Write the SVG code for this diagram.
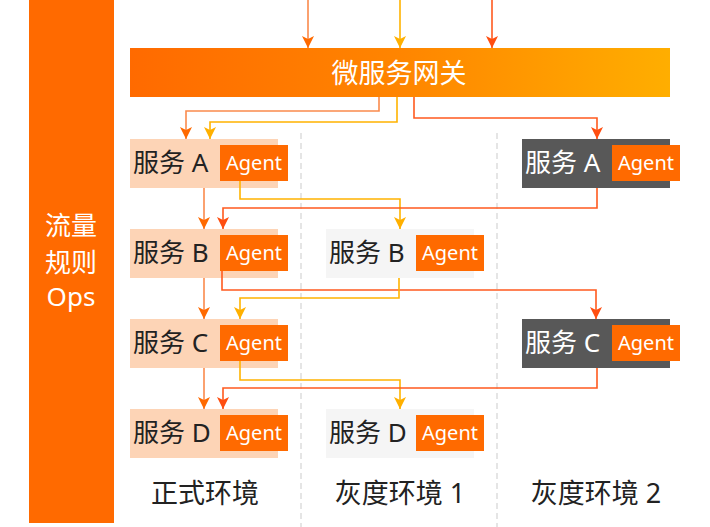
<svg xmlns="http://www.w3.org/2000/svg" width="710" height="527" viewBox="0 0 710 527">
<style>
.cjk{font-family:"Noto Sans","Noto Sans CJK SC",sans-serif}
.svc{font-size:26px;fill:#222}
.svcd{font-size:26px;fill:#fff}
.ag{font-size:20px;fill:#fff}
.agbox{fill:#FF6A00}
.peach{fill:#FDD4B6}
.gray{fill:#F5F5F5}
.dark{fill:#585858}
.lo{fill:none;stroke:#FA8A4C;stroke-width:1.6;marker-end:url(#mo)}
.ly{fill:none;stroke:#FFB300;stroke-width:1.6;marker-end:url(#my)}
.lr{fill:none;stroke:#FF5A1F;stroke-width:1.6;marker-end:url(#mr)}
.dash{stroke:#DDDDDD;stroke-width:1.5;stroke-dasharray:6 4}
.env{font-size:27px;fill:#222}
</style>
<defs>
<linearGradient id="gw" x1="0" y1="0" x2="1" y2="0">
<stop offset="0" stop-color="#FF6A00"/>
<stop offset="0.5" stop-color="#FF8500"/>
<stop offset="1" stop-color="#FFAE00"/>
</linearGradient>
<marker id="mo" viewBox="0 0 12 12" refX="12" refY="6" markerWidth="12" markerHeight="12" markerUnits="userSpaceOnUse" orient="auto"><path d="M0,0 L12,6 L0,12 L3,6 z" fill="#FF6A00"/></marker>
<marker id="my" viewBox="0 0 12 12" refX="12" refY="6" markerWidth="12" markerHeight="12" markerUnits="userSpaceOnUse" orient="auto"><path d="M0,0 L12,6 L0,12 L3,6 z" fill="#FFB000"/></marker>
<marker id="mr" viewBox="0 0 12 12" refX="12" refY="6" markerWidth="12" markerHeight="12" markerUnits="userSpaceOnUse" orient="auto"><path d="M0,0 L12,6 L0,12 L3,6 z" fill="#FF4E10"/></marker>
</defs>
<rect width="710" height="527" fill="#fff"/>

<g id="ops">
<rect x="29" y="0" width="85" height="523" fill="#FF6A00"/>
<text class="cjk" x="71" y="235" font-size="26" fill="#fff" text-anchor="middle">流量</text>
<text class="cjk" x="71" y="272" font-size="26" fill="#fff" text-anchor="middle">规则</text>
<text class="cjk" x="71" y="306" font-size="26" fill="#fff" text-anchor="middle">Ops</text>
</g>

<g id="dividers">
<line class="dash" x1="301" y1="133" x2="301" y2="527"/>
<line class="dash" x1="497" y1="133" x2="497" y2="527"/>
</g>

<g id="gateway">
<rect x="130" y="48" width="540" height="49" fill="url(#gw)"/>
<text class="cjk" x="399" y="83" font-size="27" fill="#fff" text-anchor="middle">微服务网关</text>
</g>

<g id="prod-a">
<rect class="peach" x="130" y="139" width="148" height="49"/>
<text class="cjk svc" x="133" y="172">服务 A</text>
<rect class="agbox" x="220" y="145" width="68" height="36"/>
<text class="cjk ag" x="254" y="170" text-anchor="middle">Agent</text>
</g>
<g id="prod-b">
<rect class="peach" x="130" y="229" width="148" height="49"/>
<text class="cjk svc" x="133" y="262">服务 B</text>
<rect class="agbox" x="220" y="235" width="68" height="36"/>
<text class="cjk ag" x="254" y="260" text-anchor="middle">Agent</text>
</g>
<g id="prod-c">
<rect class="peach" x="130" y="319" width="148" height="49"/>
<text class="cjk svc" x="133" y="352">服务 C</text>
<rect class="agbox" x="220" y="325" width="68" height="36"/>
<text class="cjk ag" x="254" y="350" text-anchor="middle">Agent</text>
</g>
<g id="prod-d">
<rect class="peach" x="130" y="409" width="148" height="49"/>
<text class="cjk svc" x="133" y="442">服务 D</text>
<rect class="agbox" x="220" y="415" width="68" height="36"/>
<text class="cjk ag" x="254" y="440" text-anchor="middle">Agent</text>
</g>

<g id="gray1-b">
<rect class="gray" x="326" y="229" width="148" height="49"/>
<text class="cjk svc" x="329" y="262">服务 B</text>
<rect class="agbox" x="416" y="235" width="68" height="36"/>
<text class="cjk ag" x="450" y="260" text-anchor="middle">Agent</text>
</g>
<g id="gray1-d">
<rect class="gray" x="326" y="409" width="148" height="49"/>
<text class="cjk svc" x="329" y="442">服务 D</text>
<rect class="agbox" x="416" y="415" width="68" height="36"/>
<text class="cjk ag" x="450" y="440" text-anchor="middle">Agent</text>
</g>

<g id="gray2-a">
<rect class="dark" x="522" y="139" width="148" height="49"/>
<text class="cjk svcd" x="525" y="172">服务 A</text>
<rect class="agbox" x="612" y="145" width="68" height="36"/>
<text class="cjk ag" x="646" y="170" text-anchor="middle">Agent</text>
</g>
<g id="gray2-c">
<rect class="dark" x="522" y="319" width="148" height="49"/>
<text class="cjk svcd" x="525" y="352">服务 C</text>
<rect class="agbox" x="612" y="325" width="68" height="36"/>
<text class="cjk ag" x="646" y="350" text-anchor="middle">Agent</text>
</g>

<g id="connectors">
<path class="lo" d="M308,0 V48"/>
<path class="ly" d="M400,0 V48"/>
<path class="lr" d="M492,0 V48"/>

<path class="lo" d="M379,97 V111 H186 V139"/>
<path class="ly" d="M397,97 V122 H210 V139"/>
<path class="lr" d="M414,97 V118 H597 V139"/>

<path class="lo" d="M204,188 V229"/>
<path class="ly" d="M240,181 V199 H400 V229"/>
<path class="lr" d="M597,188 V208 H223 V229"/>

<path class="lo" d="M204,278 V319"/>
<path class="lr" d="M222,271 V290 H596 V319"/>
<path class="ly" d="M399,278 V298 H240 V319"/>

<path class="lo" d="M204,368 V409"/>
<path class="ly" d="M240,361 V380 H400 V409"/>
<path class="lr" d="M597,368 V388 H223 V409"/>
</g>

<g id="labels">
<text class="cjk env" x="205" y="503" text-anchor="middle">正式环境</text>
<text class="cjk env" x="400" y="503" text-anchor="middle">灰度环境 1</text>
<text class="cjk env" x="596" y="503" text-anchor="middle">灰度环境 2</text>
</g>
</svg>
